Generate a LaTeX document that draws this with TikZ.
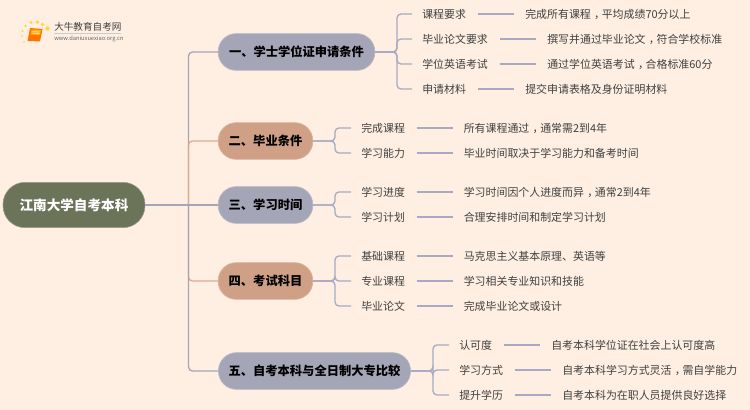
\documentclass[tikz,border=0pt]{standalone}
\usepackage{fontspec}
\setmainfont{Noto Sans CJK SC}
\definecolor{bgc}{HTML}{FFEFE2}
\definecolor{rootc}{HTML}{6B7359}
\definecolor{purp}{HTML}{A5A5B8}
\definecolor{oran}{HTML}{D0A086}
\definecolor{orline}{HTML}{DDAA90}
\definecolor{txt}{HTML}{404040}
\definecolor{linec}{HTML}{A8AAC2}
\newcommand\cma{\kern.3em，\kern-.3em}
\tikzset{
 x=0.75pt,y=-0.75pt,
 rootbox/.style={rounded corners=16.5pt,fill=rootc,draw=rootc!70!white,line width=.4pt,text=white,font=\fontsize{10.2pt}{12pt}\selectfont\bfseries,minimum width=106.5pt,minimum height=34pt,inner sep=0pt},
 mainbox/.style={rounded corners=13.5pt,draw=#1!80!white,fill=#1,line width=.5pt,text=black,font=\fontsize{9.2pt}{12pt}\selectfont\bfseries,minimum height=27.5pt,inner sep=0pt},
 leaf/.style={anchor=west,inner sep=0pt,text=txt,font=\fontsize{8.2pt}{11pt}\selectfont},
 link/.style={draw=linec,line width=.9pt},
 conn/.style={draw=#1,line width=1pt,rounded corners=3pt},
}
\begin{document}
\begin{tikzpicture}
\useasboundingbox[fill=bgc] (0,0) rectangle (750,410);
% logo
\fill[yellow!70!orange,opacity=.75] (47.5,28.5) circle (2.2) (42.5,24.5) circle (1.9) (37.5,22) circle (1.9) (31,22.5) circle (1.7) (25.5,26) circle (1.4) (22.5,31) circle (1.2) (22,36) circle (1) (24,42) circle (.8);
\fill[orange!90!red] (30,28) -- (42.5,29) -- (40,41.5) -- (27.5,41) -- cycle;
\fill[orange!60!yellow] (31.5,29.5) -- (41,30) -- (40,35) -- (30.5,34.5) -- cycle;
\draw[orange!30!white,line width=.5pt] (32.5,31.5) -- (39.5,32) (32,33.2) -- (39,33.5);
\node[anchor=west,inner sep=0pt,text=black!75,font=\fontsize{7.2pt}{9pt}\selectfont] (logot) at (54,27) {大牛教育自考网};
\node[anchor=west,inner sep=0pt,text=black!60,font=\fontsize{4.3pt}{6pt}\selectfont] (logou) at (54,38.5) {www.daniuxuexiao.org.cn};
\draw[black!20,line width=.4pt] (54,33.5) -- (121,33.5);
% root
\node[rootbox] (root) at (74,205) {江南大学自考本科};
% mains
\node[mainbox=purp,minimum width=117.5pt] (m1) at (296.5,52) {一、学士学位证申请条件};
\node[mainbox=oran,minimum width=71pt] (m2) at (265.5,141) {二、毕业条件};
\node[mainbox=purp,minimum width=71pt] (m3) at (265.5,205) {三、学习时间};
\node[mainbox=oran,minimum width=71pt] (m4) at (265.5,281) {四、考试科目};
\node[mainbox=purp,minimum width=144pt] (m5) at (314.5,371) {五、自考本科与全日制大专比较};
% root connectors
\draw[conn=purp] (m1.west) -| (188.5,205);
\draw[conn=orline] (m2.west) -| (188.5,205);
\draw[conn=orline] (m4.west) -| (188.5,205);
\draw[conn=purp] (m5.west) -| (188.5,205);
\draw[conn=purp] (root.east) -- (m3.west);
% leaves: branch 1
\foreach \n/\y/\a/\lx/\b/\vx in {
 a/14/课程要求/478/完成所有课程\cma 平均成绩70分以上/525,
 b/39/毕业论文要求/499.5/撰写并通过毕业论文\cma 符合学校标准/547,
 c/64/学位英语考试/499.5/通过学位英语考试\cma 合格标准60分/547,
 d/89/申请材料/478/提交申请表格及身份证明材料/525}{
 \node[leaf] (k\n) at (422,\y) {\a};
 \node[leaf] (v\n) at (\vx,\y) {\b};
 \coordinate (s\n) at (\lx,\y);
 \coordinate (t\n) at (\vx-11,\y);
 \coordinate (e\n) at (412,\y);
 \draw[link] (s\n) -- (t\n);
 \draw[conn=linec] (m1.east) -- (397,52) |- (e\n);
}
% branches 2-4
\foreach \n/\p/\my/\y/\a/\b in {
 e/m2/141/128/完成课程/所有课程通过\cma 通常需2到4年,
 f/m2/141/153/学习能力/毕业时间取决于学习能力和备考时间,
 g/m3/205/192/学习进度/学习时间因个人进度而异\cma 通常2到4年,
 h/m3/205/217/学习计划/合理安排时间和制定学习计划,
 i/m4/281/256/基础课程/马克思主义基本原理、英语等,
 j/m4/281/281/专业课程/学习相关专业知识和技能,
 l/m4/281/306/毕业论文/完成毕业论文或设计}{
 \node[leaf] (k\n) at (361,\y) {\a};
 \node[leaf] (v\n) at (463.5,\y) {\b};
 \coordinate (s\n) at (416.5,\y);
 \coordinate (t\n) at (452.5,\y);
 \coordinate (e\n) at (351,\y);
 \draw[link] (s\n) -- (t\n);
 \draw[conn=linec] (\p.east) -- (335,\my) |- (e\n);
}
% branch 5
\foreach \n/\y/\a/\lx/\b/\vx in {
 m/345/认可度/503.5/自考本科学位证在社会上认可度高/551,
 o/370/学习方式/514.5/自考本科学习方式灵活\cma 需自学能力/562,
 p/395/提升学历/514.5/自考本科为在职人员提供良好选择/562}{
 \node[leaf] (k\n) at (459,\y) {\a};
 \node[leaf] (v\n) at (\vx,\y) {\b};
 \coordinate (s\n) at (\lx,\y);
 \coordinate (t\n) at (\vx-11,\y);
 \coordinate (e\n) at (449,\y);
 \draw[link] (s\n) -- (t\n);
 \draw[conn=linec] (m5.east) -- (433,371) |- (e\n);
}
\end{tikzpicture}
\end{document}
